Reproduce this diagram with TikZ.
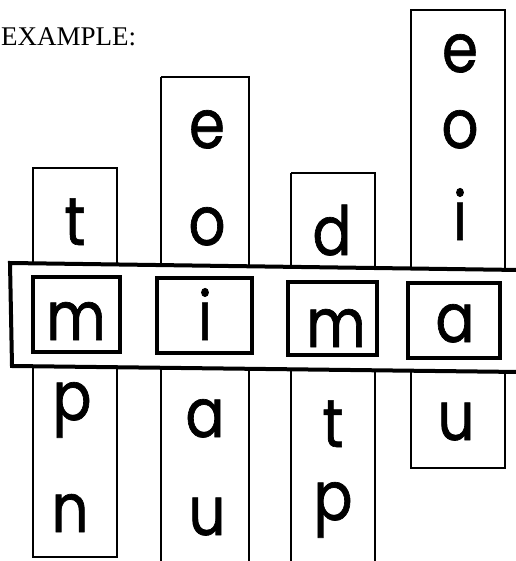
\documentclass[tikz,border=0pt]{standalone}
\usepackage{fontspec}
\setmainfont{Liberation Serif}
\newfontfamily\handfont[FakeStretch=0.85, FakeBold=1]{Poppins}
\usetikzlibrary{positioning}

\begin{document}
\begin{tikzpicture}[
  x=1pt, y=-1pt,
  letter/.style={font=\handfont\fontsize{68}{68}\selectfont, inner sep=0pt, anchor=base},
  strip/.style={draw, line width=1.6pt},
  window/.style={draw, line width=3.6pt},
  slider/.style={draw, line width=4pt, fill=white}
]
\useasboundingbox (0,0) rectangle (515,561);
\node[font=\fontsize{27}{27}\selectfont, inner sep=0pt, anchor=base west] (title) at (1,46) {EXAMPLE:};

\draw[strip] (33,168) rectangle (117,557);
\draw[strip] (161,77) -- (161,565) (249,565) -- (249,77) -- (161,77);
\draw[strip] (291,173) -- (291,565) (375,565) -- (375,173) -- (291,173);
\draw[strip] (411,10) rectangle (505,468);

\fill[white] (10,263) -- (520,270) -- (520,372) -- (12,366) -- cycle;
\draw[line width=4pt] (520,270) -- (10,263) -- (12,366) -- (520,372);

\draw[window] (33,277) rectangle (120,352);
\draw[window] (157,278) rectangle (252,353);
\draw[window] (288,282) rectangle (377,355);
\draw[window] (408,283) rectangle (500,358);

\node[letter] (t1) at (75,245) {t};
\node[letter] (m1) at (76,340) {m};
\node[letter] (p1) at (72,420) {p};
\node[letter] (n1) at (70,532) {n};

\node[letter] (e2) at (207,148) {e};
\node[letter] (o2) at (207,245) {o};
\node[letter] (i2) at (205,340) {i};
\node[letter] (a2) at (205,437) {a};
\node[letter] (u2) at (207,535) {u};

\node[letter] (d3) at (332,255) {d};
\node[letter] (m3) at (336,347) {m};
\node[letter] (t3) at (333,447) {t};
\node[letter] (p3) at (333,520) {p};

\node[letter] (e4) at (460,72) {e};
\node[letter] (o4) at (460,148) {o};
\node[letter] (i4) at (460,240) {i};
\node[letter] (a4) at (455,342) {a};
\node[letter] (u4) at (456,440) {u};
\end{tikzpicture}
\end{document}
